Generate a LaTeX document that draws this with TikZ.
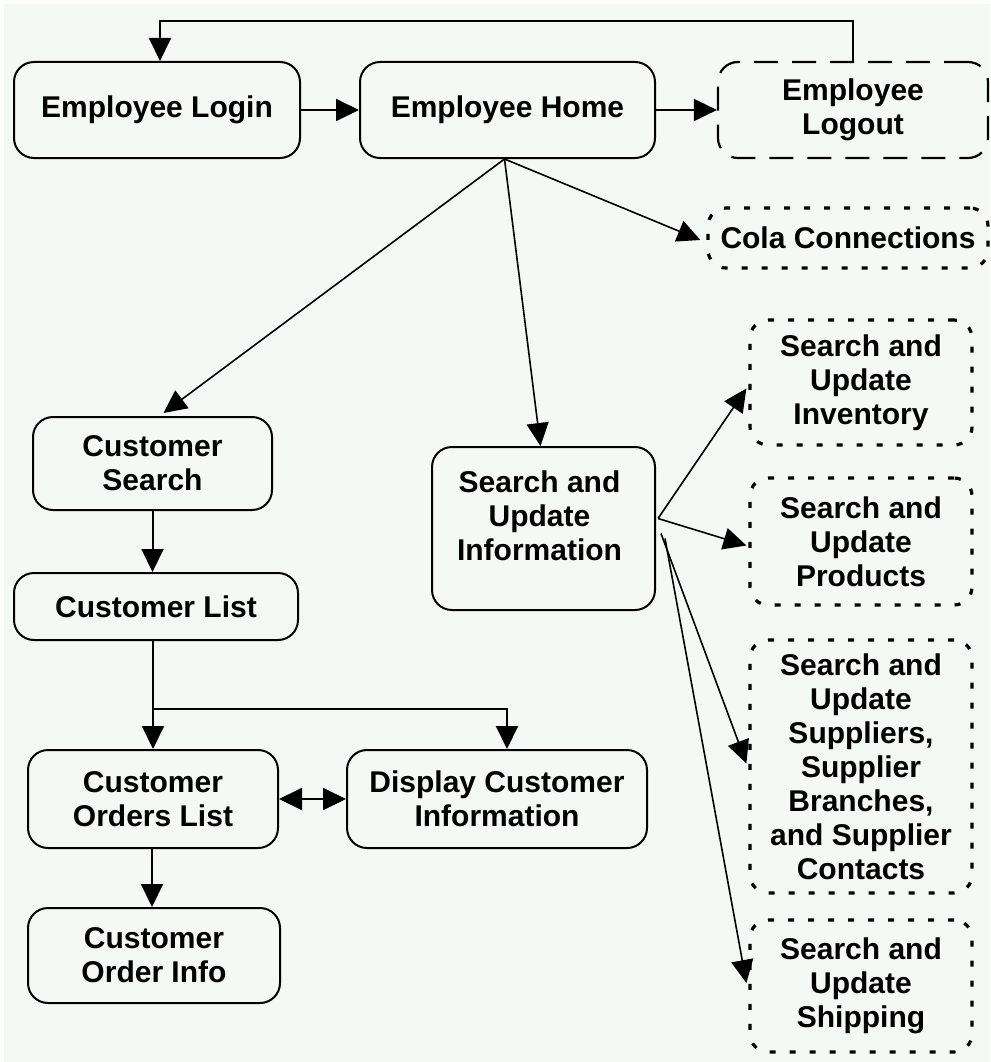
\documentclass[tikz,border=0pt]{standalone}
\usepackage{fontspec}
\setmainfont{Liberation Sans}
\usetikzlibrary{arrows.meta,calc}
\definecolor{paper}{RGB}{244,249,246}
\tikzset{bigtip/.tip={Triangle[length=23pt,width=22pt]}}
\begin{document}
\begin{tikzpicture}[x=1pt,y=-1pt,
  every node/.style={font=\bfseries\fontsize{30}{34}\selectfont, align=center, inner sep=0pt},
  box/.style={draw, line width=2pt, rounded corners=20pt},
  longdash/.style={draw, line width=2.2pt, rounded corners=20pt, dash pattern=on 24pt off 14pt},
  dotbox/.style={draw, line width=3.2pt, rounded corners=18pt, dash pattern=on 6pt off 14pt},
  arr/.style={line width=2pt, -bigtip},
  thin arr/.style={line width=1.6pt, -bigtip}]
% page
\fill[white] (0,0) rectangle (990,1062);
\fill[paper] (4,4) rectangle (990,1062);
\useasboundingbox (0,0) rectangle (990,1062);

% top row
\node[box, minimum width=286pt, minimum height=96pt] (login) at (157,110) {Employee Login};
\node[box, minimum width=295pt, minimum height=96pt] (home) at (507.5,110) {Employee Home};
\node[longdash, minimum width=270pt, minimum height=96pt] (logout) at (853,110) {Employee\\Logout};
\node[dotbox, minimum width=280pt, minimum height=60pt] (cola) at (848,238) {Cola Connections};

% customer branch
\node[box, minimum width=239pt, minimum height=93pt] (csearch) at (152.5,463.5) {Customer\\Search};
\node[box, minimum width=284pt, minimum height=67pt] (clist) at (156,606.5) {Customer List};
\node[box, minimum width=250pt, minimum height=98pt] (corders) at (153,799) {Customer\\Orders List};
\node[box, minimum width=300pt, minimum height=98pt] (display) at (497,799) {Display Customer\\Information};
\node[box, minimum width=252pt, minimum height=95pt] (oinfo) at (154,955.5) {Customer\\Order Info};

% information branch: the hub box carries its text a little above centre
\node[box, minimum width=223pt, minimum height=163pt] (sinfo) at (543.5,528.5) {};
\node (sinfotext) at ($(sinfo.center)+(-4,-13)$) {Search and\\Update\\Information};
\node[dotbox, minimum width=222pt, minimum height=125pt] (inventory) at (861,382.5) {Search and\\Update\\Inventory};
\node[dotbox, minimum width=222pt, minimum height=127pt] (products) at (861,541.5) {Search and\\Update\\Products};
\node[dotbox, minimum width=222pt, minimum height=253pt] (suppliers) at (861,766.5) {Search and\\Update\\Suppliers,\\Supplier\\Branches,\\and Supplier\\Contacts};
\node[dotbox, minimum width=222pt, minimum height=132pt] (shipping) at (861,986) {Search and\\Update\\Shipping};

% connectors
\draw[arr] (login) -- (home);
\draw[arr] (home) -- (logout);
\draw[arr] (logout.north) -- ++(0,-40) -| ($(login.north)+(3,0)$);

\draw[thin arr] ($(home.south)+(-3,0)$) -- ($(csearch.north)+(11,-3)$);
\draw[thin arr] ($(home.south)+(-3,0)$) -- ($(sinfo.north)+(-3,0)$);
\draw[thin arr] ($(home.south)+(-3,0)$) -- ($(cola.west)+(-6,2)$);

\draw[arr] (csearch) -- (csearch |- clist.north);
\draw[arr] ($(clist.south)+(-3,0)$) -- ($(clist.south |- corders.north)+(-3,0)$);
\draw[arr] ($(clist.south)+(-3,68)$) -| ($(display.north)+(10,0)$);
\draw[line width=2pt, bigtip-bigtip] (corders.east) -- (display.west);
\draw[arr] ($(corders.south)+(-1,0)$) -- ($(oinfo.north)+(-2,0)$);

\draw[thin arr] ($(sinfo.east)+(2,-10)$) -- ($(inventory.west)+(-2,6)$);
\draw[thin arr] ($(sinfo.east)+(2,-10)$) -- ($(products.west)+(-2,4)$);
\draw[thin arr] ($(sinfo.east)+(5,5)$) -- ($(suppliers.west)+(-2,-3)$);
\draw[thin arr] ($(sinfo.east)+(9,10)$) -- ($(shipping.west)+(-2,-3)$);
\end{tikzpicture}
\end{document}
